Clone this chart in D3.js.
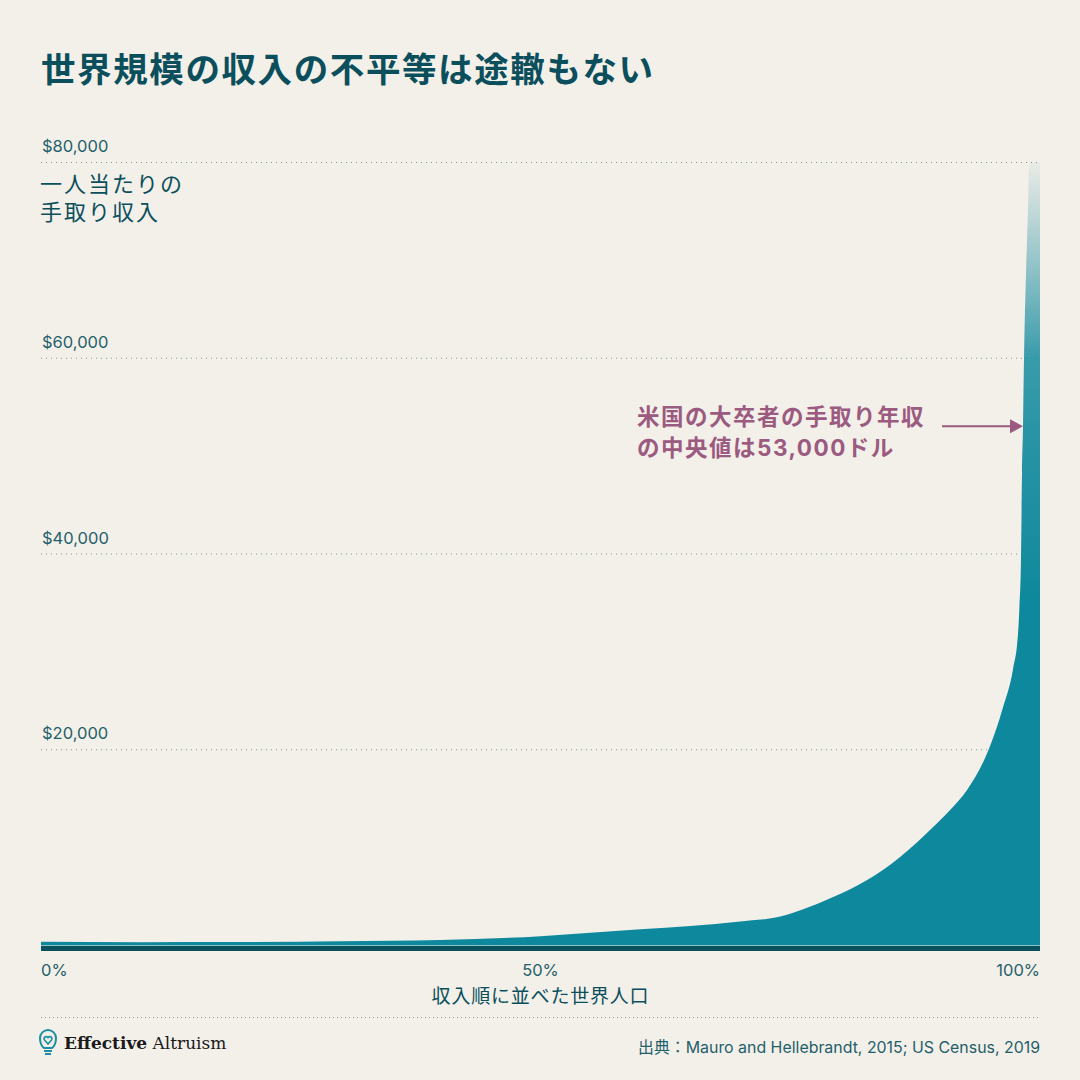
<!DOCTYPE html>
<html><head><meta charset="utf-8">
<script src="https://cdn.jsdelivr.net/npm/d3@7/dist/d3.min.js"></script>
<style>
html,body{margin:0;padding:0;background:#f3efe9;}
svg{display:block;}
</style></head>
<body>
<svg id="chart" width="1080" height="1080"></svg>
<script>
// ---- data ----
const percentiles = [0, 10, 20, 30, 40, 50, 55, 60, 65, 70, 74, 76.3, 79.3, 82.7, 86.0, 89.3, 91.0, 92.7, 94.8, 96.3, 97.3, 97.8, 97.95, 98.1, 98.2, 98.3, 98.4, 98.6, 98.8, 98.9, 99.0, 100];
const incomes     = [320, 290, 300, 380, 510, 900, 1250, 1600, 1950, 2400, 2900, 3650, 4900, 6640, 9000, 12060, 13800, 15840, 19820, 24300, 28200, 31800, 34800, 39600, 48200, 53000, 60000, 68600, 75400, 79500, 80000, 80000];
const yTickValues = [20000, 40000, 60000, 80000];
const yTickLabels = ["$20,000", "$40,000", "$60,000", "$80,000"];
const xTickValues = [0, 50, 100];
const xTickLabels = ["0%", "50%", "100%"];
const titleText = "世界規模の収入の不平等は途轍もない";
const yTitleLines = ["一人当たりの", "手取り収入"];
const xTitleText = "収入順に並べた世界人口";
const annotationLines = ["米国の大卒者の手取り年収", "の中央値は53,000ドル"];
const annotationValue = 53000;
const sourceText = "出典：Mauro and Hellebrandt, 2015; US Census, 2019";

// ---- layout ----
const L = 41, R = 1040, T = 162, B = 945;
const bg = "#f3efe9", teal = "#0e889c", dark = "#0b4f5c", tickCol = "#1f5f6b", mauve = "#9b5a80";
const cjk = "Inter,'Noto Sans CJK JP','Noto Sans',sans-serif";
const latin = "Inter,'Noto Sans',sans-serif";

const svg = d3.select("#chart");
svg.append("rect").attr("width",1080).attr("height",1080).attr("fill",bg);

const x = d3.scaleLinear().domain([0,100]).range([L,R]);
const y = d3.scaleLinear().domain([0,80000]).range([B,T]);

// title
svg.append("text").attr("x",L).attr("y",82).text(titleText)
  .attr("font-family",cjk).attr("font-weight",700).attr("font-size",34.5)
  .attr("letter-spacing",1.6).attr("fill",dark);

// gridlines
svg.append("g").selectAll("line").data(yTickValues).join("line")
  .attr("x1",L).attr("x2",R).attr("y1",d=>y(d)+0.5).attr("y2",d=>y(d)+0.5)
  .attr("stroke","#7a9a9c").attr("stroke-width",1).attr("stroke-dasharray","1,4");

// y tick labels
svg.append("g").selectAll("text").data(yTickValues).join("text")
  .attr("x",L+1).attr("y",d=>y(d)-10).text((d,i)=>yTickLabels[i])
  .attr("font-family",latin).attr("font-size",16.5).attr("fill",tickCol);

// gradient
const defs = svg.append("defs");
const grad = defs.append("linearGradient").attr("id","fade")
  .attr("gradientUnits","userSpaceOnUse").attr("x1",0).attr("x2",0)
  .attr("y1",y(80000)).attr("y2",600);
[[0,0.04],[0.1,0.2],[0.25,0.45],[0.445,0.81],[0.61,0.88],[0.9,0.96],[1,1]].forEach(s=>{
  grad.append("stop").attr("offset",s[0]).attr("stop-color",teal).attr("stop-opacity",s[1]);
});

// area
const data = percentiles.map((p,i)=>({p, v: incomes[i]}));
const area = d3.area().x(d=>x(d.p)).y0(y(0)).y1(d=>y(Math.min(d.v,80000))).curve(d3.curveMonotoneX);
svg.append("path").datum(data).attr("d",area).attr("fill","url(#fade)");

// baseline
svg.append("rect").attr("x",L).attr("y",y(0)).attr("width",R-L).attr("height",1).attr("fill","#8cc3ca");
svg.append("rect").attr("x",L).attr("y",y(0)+1).attr("width",R-L).attr("height",5).attr("fill","#0a4f5c");

// y title
svg.append("g").selectAll("text").data(yTitleLines).join("text")
  .attr("x",L-1).attr("y",(d,i)=>192+i*28).text(d=>d)
  .attr("font-family",cjk).attr("font-size",22).attr("letter-spacing",2).attr("fill",dark);

// x ticks
svg.append("g").selectAll("text").data(xTickValues).join("text")
  .attr("x",d=>x(d)).attr("y",976).text((d,i)=>xTickLabels[i])
  .attr("text-anchor",(d,i)=>i===0?"start":(i===2?"end":"middle"))
  .attr("font-family",latin).attr("font-size",16.5).attr("fill",tickCol);

svg.append("text").attr("x",x(50)).attr("y",1003).text(xTitleText)
  .attr("text-anchor","middle").attr("font-family",cjk).attr("font-size",19)
  .attr("letter-spacing",0.8).attr("fill",dark);

// annotation
svg.append("g").selectAll("text").data(annotationLines).join("text")
  .attr("x",637).attr("y",(d,i)=>425+i*31).text(d=>d)
  .attr("font-family",cjk).attr("font-weight",700).attr("font-size",22.5)
  .attr("letter-spacing",1.5).attr("fill",mauve);
const ay = y(annotationValue);
svg.append("line").attr("x1",942).attr("x2",1012).attr("y1",ay).attr("y2",ay)
  .attr("stroke",mauve).attr("stroke-width",2);
svg.append("path").attr("d",`M1010,${ay-7} L1023,${ay} L1010,${ay+7} Z`).attr("fill",mauve);

// bottom dotted line
svg.append("line").attr("x1",L).attr("x2",R).attr("y1",1017.5).attr("y2",1017.5)
  .attr("stroke","#9aa6a6").attr("stroke-width",1).attr("stroke-dasharray","1,3");

// logo
const lg = svg.append("g").attr("transform","translate(48,1042)").attr("fill","none").attr("stroke","#1b8fa3").attr("stroke-width",2);
lg.append("path").attr("d","M-4,6 C-8,3 -8,-2 -8,-4 A8,8 0 1 1 8,-4 C8,-2 8,3 4,6 Z");
lg.append("path").attr("d","M0,2 L-3.5,-2 A2,2 0 0 1 0,-4.5 A2,2 0 0 1 3.5,-2 Z").attr("stroke-width",1.6);
lg.append("path").attr("d","M-4,9 L4,9 M-3,12 L3,12").attr("stroke-width",1.8);

const ea = svg.append("text").attr("x",64).attr("y",1049)
  .attr("font-family","'DejaVu Serif','Liberation Serif',serif").attr("font-size",17).attr("fill","#1a1a1a");
ea.append("tspan").attr("font-weight",700).text("Effective");
ea.append("tspan").text(" Altruism");

svg.append("text").attr("x",R).attr("y",1053).attr("text-anchor","end").text(sourceText)
  .attr("font-family",cjk).attr("font-size",15.9).attr("fill",tickCol);
</script>
</body></html>
